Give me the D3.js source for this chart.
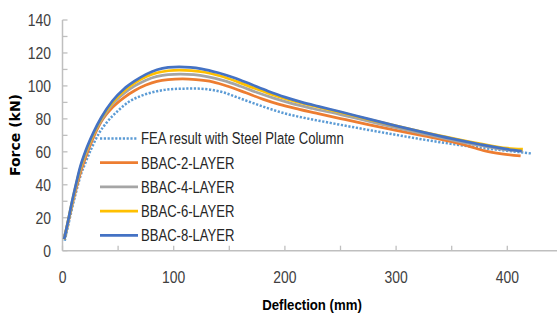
<!DOCTYPE html>
<html>
<head>
<meta charset="utf-8">
<script src="https://cdn.jsdelivr.net/npm/d3@7"></script>
<style>
    body { margin: 0; background: #fff; }
    .tick-label { font-family: "Liberation Sans", Arial, sans-serif; font-size: 17px; fill: #404040; }
    .legend-label { font-family: "Liberation Sans", Arial, sans-serif; font-size: 17px; fill: #262626; }
</style>
</head>
<body>
<div id="chart"></div>
<script>
var drawChart = (function () {

    // series names, in legend order
    var seriesNames = ["FEA result with Steel Plate Column", "BBAC-2-LAYER", "BBAC-4-LAYER", "BBAC-6-LAYER", "BBAC-8-LAYER"];

    // [deflection (mm), force (kN)]
    var feaSteelPlate = [[2, 6], [5, 15], [8, 24], [12, 35], [16, 45], [21, 54], [26, 62], [33, 71.5], [40, 78], [50, 85], [60, 90.5],
        [70, 93.8], [80, 96], [92, 97.6], [105, 98.3], [120, 98.4], [135, 97.5], [145, 96], [155, 93.6], [168, 90.4], [185, 86.4],
        [200, 83.3], [225, 79.6], [250, 76.4], [275, 73.3], [300, 70.3], [325, 67.4], [350, 64.8], [375, 62.6], [400, 60.6], [422, 59]];

    var bbac2 = [[1.5, 7], [5, 17], [8, 26], [12, 37], [16, 47], [21, 57], [28, 69], [35, 78.5], [45, 87], [55, 92.8], [65, 97.2],
        [75, 100.5], [85, 102.8], [95, 103.8], [108, 104.2], [120, 103.8], [135, 102.5], [150, 99.5], [165, 95.8], [180, 92],
        [195, 88.8], [213, 85.8], [230, 83.2], [250, 80.2], [275, 76.5], [300, 73], [325, 69.7], [350, 66.2], [365, 63.5],
        [380, 60.6], [395, 58.8], [412, 57.5]];

    var bbac4 = [[1.5, 7], [5, 17.5], [8, 27], [12, 38.5], [16, 49], [21, 59], [28, 70.5], [35, 79.5], [45, 89], [55, 95.3], [65, 100],
        [75, 103.5], [85, 105.8], [95, 106.9], [106, 107.2], [118, 106.8], [130, 105.6], [145, 103.2], [160, 99.8], [175, 96],
        [190, 92.6], [205, 89.6], [225, 86.3], [250, 82.6], [275, 78.6], [300, 74.6], [325, 70.9], [350, 67.3], [375, 64],
        [400, 61.2], [414, 60.5]];

    var bbac6 = [[1.5, 7], [5, 18], [8, 27.5], [12, 39.5], [16, 50], [21, 60], [28, 71], [35, 80.3], [45, 90], [55, 96.8], [65, 101.8],
        [75, 105.5], [85, 108], [95, 109.2], [105, 109.6], [116, 109.3], [128, 108.3], [142, 106], [157, 102.6], [172, 98.8],
        [187, 95.2], [202, 92], [225, 88], [250, 83.9], [275, 79.7], [300, 75.7], [325, 71.9], [350, 68.3], [375, 65],
        [400, 62.2], [414, 61.6]];

    var bbac8 = [[1.5, 7], [5, 18], [8, 28], [12, 40], [16, 51], [21, 61], [28, 72], [35, 81], [45, 91], [55, 98], [65, 103],
        [75, 107], [85, 109.8], [95, 111.2], [105, 111.6], [115, 111.3], [125, 110.4], [140, 108], [155, 104.8], [170, 100.8],
        [185, 96.8], [200, 93.2], [215, 90.2], [230, 87.6], [250, 84.3], [275, 80], [300, 75.8], [325, 71.8], [350, 68],
        [375, 64.6], [400, 61.6], [413, 60.4]];

    var xTicks = [0, 100, 200, 300, 400];
    var yTicks = [0, 20, 40, 60, 80, 100, 120, 140];

    function go() {
        var width = 557;
        var height = 315;
        var svg = d3.select("#chart")
            .append("svg:svg")
            .attr("width", width)
            .attr("height", height);

        var x = d3.scaleLinear().domain([0, 450]).range([62.5, 562.9]);
        var y = d3.scaleLinear().domain([0, 140]).range([250.7, 20]);

        var axisColor = "#bfbfbf";

        // minor ticks every 10 kN (inside, to the right) and every 50 mm (inside, up)
        svg.append("g")
            .selectAll("line")
            .data(d3.range(0, 141, 10))
            .enter().append("line")
            .attr("x1", x(0)).attr("x2", x(0) + 5)
            .attr("y1", function (d) { return y(d); })
            .attr("y2", function (d) { return y(d); })
            .attr("stroke", axisColor)
            .attr("stroke-width", 1.3);

        svg.append("g")
            .selectAll("line")
            .data(d3.range(0, 451, 50))
            .enter().append("line")
            .attr("x1", function (d) { return x(d); })
            .attr("x2", function (d) { return x(d); })
            .attr("y1", y(0)).attr("y2", y(0) - 5)
            .attr("stroke", axisColor)
            .attr("stroke-width", 1.3);

        // axis lines
        svg.append("line")
            .attr("x1", x(0)).attr("x2", x(0))
            .attr("y1", y(0)).attr("y2", y(140))
            .attr("stroke", axisColor).attr("stroke-width", 1.5);
        svg.append("line")
            .attr("x1", x(0)).attr("x2", width)
            .attr("y1", y(0)).attr("y2", y(0))
            .attr("stroke", axisColor).attr("stroke-width", 1.5);

        // tick labels (squeezed a little to look like the narrow office font)
        svg.append("g")
            .selectAll("text")
            .data(yTicks)
            .enter().append("text")
            .attr("class", "tick-label")
            .attr("transform", function (d) { return "translate(51," + y(d) + ") scale(0.82,1)"; })
            .attr("dy", "0.35em")
            .attr("text-anchor", "end")
            .text(function (d) { return d; });

        svg.append("g")
            .selectAll("text")
            .data(xTicks)
            .enter().append("text")
            .attr("class", "tick-label")
            .attr("transform", function (d) { return "translate(" + x(d) + ",277.5) scale(0.82,1)"; })
            .attr("dy", "0.35em")
            .attr("text-anchor", "middle")
            .text(function (d) { return d; });

        // axis titles
        svg.append("text")
            .attr("transform", "translate(312,305) scale(0.88,1)")
            .attr("dy", "0.35em")
            .attr("text-anchor", "middle")
            .style("font", "bold 15px 'Liberation Sans', sans-serif")
            .attr("fill", "#000")
            .text("Deflection (mm)");

        svg.append("text")
            .attr("transform", "translate(15,135) rotate(-90)")
            .attr("dy", "0.35em")
            .attr("text-anchor", "middle")
            .style("font", "bold 14px 'DejaVu Sans', sans-serif")
            .attr("fill", "#000")
            .text("Force (kN)");

        var series = [
            { name: seriesNames[0], values: feaSteelPlate, color: "#5b9bd5", dash: "2.2,1.6", w: 2.5 },
            { name: seriesNames[1], values: bbac2, color: "#ed7d31", dash: null, w: 2.75 },
            { name: seriesNames[2], values: bbac4, color: "#a5a5a5", dash: null, w: 2.75 },
            { name: seriesNames[3], values: bbac6, color: "#ffc000", dash: null, w: 2.75 },
            { name: seriesNames[4], values: bbac8, color: "#4472c4", dash: null, w: 2.75 }
        ];

        var line = d3.line()
            .curve(d3.curveMonotoneX)
            .x(function (d) { return x(d[0]); })
            .y(function (d) { return y(d[1]); });

        svg.selectAll(".series")
            .data(series)
            .enter().append("path")
            .attr("class", "series")
            .attr("d", function (d) { return line(d.values); })
            .attr("fill", "none")
            .attr("stroke", function (d) { return d.color; })
            .attr("stroke-width", function (d) { return d.w; })
            .attr("stroke-dasharray", function (d) { return d.dash; })
            .attr("stroke-linejoin", "round");

        // legend
        var legend = svg.selectAll(".legend")
            .data(series)
            .enter().append("g")
            .attr("class", "legend")
            .attr("transform", function (d, i) { return "translate(100," + (138.5 + i * 24.2) + ")"; });

        legend.append("line")
            .attr("x1", 0).attr("x2", 38)
            .attr("stroke", function (d) { return d.color; })
            .attr("stroke-width", function (d) { return d.w; })
            .attr("stroke-dasharray", function (d) { return d.dash; });

        legend.append("text")
            .attr("class", "legend-label")
            .attr("transform", "translate(41,0) scale(0.77,1)")
            .attr("dy", "0.35em")
            .text(function (d) { return d.name; });
    }

    document.addEventListener("DOMContentLoaded", function (event) {
        go();
    });
}());
</script>
</body>
</html>
